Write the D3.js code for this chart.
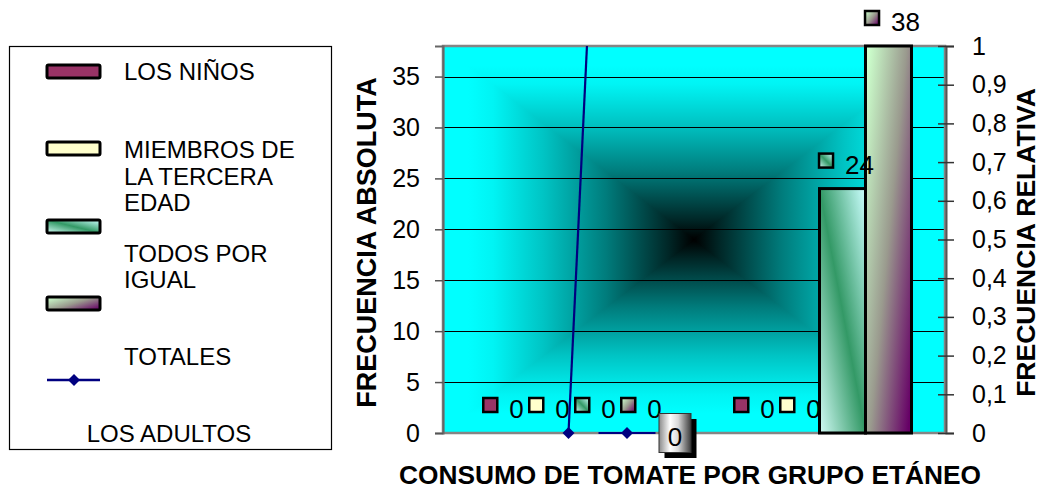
<!DOCTYPE html>
<html>
<head>
<meta charset="utf-8">
<script src="https://cdn.jsdelivr.net/npm/d3@7"></script>
<style>
  html, body { margin: 0; padding: 0; background: #ffffff; }
  svg { display: block; font-family: "Liberation Sans", Arial, sans-serif; }
</style>
</head>
<body>
<svg id="chart" width="1044" height="489"></svg>
<script>
// ---- data ----
const categories = ["Grupo 1", "Grupo 2"];
const barSeries = ["LOS NIÑOS", "MIEMBROS DE LA TERCERA EDAD", "LOS ADULTOS", "TODOS POR IGUAL"];
const ninos = [0, 0];
const terceraEdad = [0, 0];
const adultos = [0, 24];
const todosIgual = [0, 38];
const totales = [0, 13.6];          // plotted against the relative-frequency axis
const absTicks = [0, 5, 10, 15, 20, 25, 30, 35];
const relTicks = [0, 0.1, 0.2, 0.3, 0.4, 0.5, 0.6, 0.7, 0.8, 0.9, 1];
const legendLines = [
  ["LOS NIÑOS"],
  ["MIEMBROS DE", "LA TERCERA", "EDAD"],
  ["TODOS POR", "IGUAL"],
  ["TOTALES"],
  ["LOS ADULTOS"]
];
const titleX = "CONSUMO DE TOMATE POR GRUPO ETÁNEO";
const titleY = "FRECUENCIA ABSOLUTA";
const titleY2 = "FRECUENCIA RELATIVA";

const barValues = [ninos, terceraEdad, adultos, todosIgual];

// ---- layout ----
const svg = d3.select("#chart");
const P = { l: 443, r: 945, t: 46, b: 433 };
const cx = (P.l + P.r) / 2, cy = (P.t + P.b) / 2;

const x0 = d3.scaleBand().domain(categories).range([P.l, P.r]).paddingInner(0.267).paddingOuter(0.1335);
const x1 = d3.scaleBand().domain(d3.range(barSeries.length)).range([0, x0.bandwidth()]);
const yL = d3.scaleLinear().domain([0, 38]).range([P.b, P.t]);
const yR = d3.scaleLinear().domain([0, 1]).range([P.b, P.t]);

const defs = svg.append("defs");

// rectangular "from centre" background: four triangles with linear ramps
function ramp(id, x1v, y1v, x2v, y2v) {
  const g = defs.append("linearGradient").attr("id", id).attr("gradientUnits", "userSpaceOnUse")
    .attr("x1", x1v).attr("y1", y1v).attr("x2", x2v).attr("y2", y2v);
  [[0, "#000000"], [0.1, "#002626"], [0.35, "#007c7c"], [0.6, "#00c4c4"], [0.8, "#00f4f4"], [0.9, "#00ffff"], [1, "#00ffff"]]
    .forEach(([o, c]) => g.append("stop").attr("offset", o).attr("stop-color", c));
}
ramp("bgTop", cx, cy, cx, P.t);
ramp("bgBottom", cx, cy, cx, P.b);
ramp("bgLeft", cx, cy, P.l, cy);
ramp("bgRight", cx, cy, P.r, cy);

// bar fills
const gGreen = defs.append("linearGradient").attr("id", "fillGreen")
  .attr("x1", 0).attr("y1", 1).attr("x2", 1).attr("y2", 0);
[[0, "#d2fbf6"], [0.5, "#339966"], [1, "#ccffff"]]
  .forEach(([o, c]) => gGreen.append("stop").attr("offset", o).attr("stop-color", c));
const gPurple = defs.append("linearGradient").attr("id", "fillPurple")
  .attr("x1", 0).attr("y1", 0.1).attr("x2", 1).attr("y2", 0.9);
[[0, "#ccffcc"], [0.5, "#9a9a8e"], [1, "#660066"]]
  .forEach(([o, c]) => gPurple.append("stop").attr("offset", o).attr("stop-color", c));
const gBox = defs.append("linearGradient").attr("id", "fillBox")
  .attr("x1", 0).attr("y1", 0).attr("x2", 1).attr("y2", 0);
[[0, "#8a8a8a"], [0.35, "#ffffff"], [0.6, "#d8d8d8"], [1, "#3c3c3c"]]
  .forEach(([o, c]) => gBox.append("stop").attr("offset", o).attr("stop-color", c));

const fills = ["#993366", "#ffffcc", "url(#fillGreen)", "url(#fillPurple)"];

defs.append("clipPath").attr("id", "plotClip")
  .append("rect").attr("x", P.l).attr("y", P.t).attr("width", P.r - P.l).attr("height", P.b - P.t);

// ---- plot background ----
const bg = svg.append("g").attr("clip-path", "url(#plotClip)");
const tri = [
  ["bgTop", `M${P.l},${P.t}L${P.r},${P.t}L${cx},${cy}Z`],
  ["bgBottom", `M${P.l},${P.b}L${P.r},${P.b}L${cx},${cy}Z`],
  ["bgLeft", `M${P.l},${P.t}L${P.l},${P.b}L${cx},${cy}Z`],
  ["bgRight", `M${P.r},${P.t}L${P.r},${P.b}L${cx},${cy}Z`]
];
tri.forEach(([id, d]) => {
  bg.append("path").attr("d", d).attr("fill", `url(#${id})`)
    .attr("stroke", `url(#${id})`).attr("stroke-width", 1.5).attr("stroke-linejoin", "round");
});

// gridlines
svg.append("g").selectAll("line").data(absTicks.filter(d => d > 0)).join("line")
  .attr("x1", P.l).attr("x2", P.r)
  .attr("y1", d => Math.round(yL(d)) + 0.5).attr("y2", d => Math.round(yL(d)) + 0.5)
  .attr("stroke", "#000").attr("stroke-width", 1.2);

// plot border
svg.append("rect").attr("x", P.l).attr("y", P.t).attr("width", P.r - P.l).attr("height", P.b - P.t)
  .attr("fill", "none").attr("stroke", "#858585").attr("stroke-width", 2.5);

// ---- bars ----
const barG = svg.append("g");
barSeries.forEach((name, si) => {
  barG.append("g").selectAll("rect").data(categories).join("rect")
    .attr("x", c => x0(c) + x1(si))
    .attr("y", (c, ci) => yL(barValues[si][ci]))
    .attr("width", x1.bandwidth())
    .attr("height", (c, ci) => yL(0) - yL(barValues[si][ci]))
    .attr("fill", fills[si])
    .attr("stroke", "#000").attr("stroke-width", 3)
    .attr("stroke-linejoin", "miter");
});

// bar data labels: legend key square + value
const labG = svg.append("g");
barSeries.forEach((name, si) => {
  categories.forEach((c, ci) => {
    const v = barValues[si][ci];
    const bx = x0(c) + x1(si) + x1.bandwidth() / 2;
    const top = yL(v);
    const g = labG.append("g");
    const t = g.append("text").attr("x", 0).attr("y", top - 15)
      .attr("font-size", 26).attr("fill", "#000").text(v);
    const tw = t.node().getComputedTextLength();
    const total = 15 + 11 + tw;
    const left = bx + 4 - total / 2;
    g.append("rect").attr("x", left).attr("y", top - 35).attr("width", 14).attr("height", 14)
      .attr("fill", fills[si]).attr("stroke", "#000").attr("stroke-width", 2.5);
    t.attr("x", left + 26);
  });
});

// ---- TOTALES line (relative axis) ----
const lx = (c) => x0(c) + x0.bandwidth() / 2;
const line = d3.line().x((d, i) => lx(categories[i])).y(d => yR(d));
svg.append("path").datum(totales).attr("d", line)
  .attr("clip-path", "url(#plotClip)")
  .attr("fill", "none").attr("stroke", "#000080").attr("stroke-width", 2.2);

const diamond = (x, y, r) => `M${x},${y - r}L${x + r},${y}L${x},${y + r}L${x - r},${y}Z`;
totales.forEach((v, i) => {
  const px = lx(categories[i]), py = yR(v);
  if (py < P.t) return;
  svg.append("path").attr("d", diamond(px, py, 6)).attr("fill", "#000080");
  // label with legend key and boxed value
  const g = svg.append("g");
  g.append("line").attr("x1", px + 30).attr("x2", px + 87).attr("y1", py).attr("y2", py)
    .attr("stroke", "#000080").attr("stroke-width", 2.2);
  g.append("path").attr("d", diamond(px + 58.5, py, 6)).attr("fill", "#000080");
  g.append("rect").attr("x", px + 96).attr("y", py - 14).attr("width", 32).attr("height", 39)
    .attr("fill", "#000");
  g.append("rect").attr("x", px + 90.5).attr("y", py - 19.5).attr("width", 32).attr("height", 39)
    .attr("fill", "url(#fillBox)").attr("stroke", "#333").attr("stroke-width", 1);
  g.append("text").attr("x", px + 106.5).attr("y", py + 13).attr("text-anchor", "middle")
    .attr("font-size", 26).attr("fill", "#000").text(v);
});

// ---- axes ----
const axL = svg.append("g").attr("transform", `translate(${P.l},0)`)
  .call(d3.axisLeft(yL).tickValues(absTicks).tickSize(8).tickPadding(15).tickFormat(d3.format("d")));
axL.select(".domain").attr("stroke", "#666").attr("stroke-width", 2);
axL.selectAll(".tick line").attr("stroke", "#555").attr("stroke-width", 1.5);
axL.selectAll(".tick text").attr("font-size", 25).attr("font-family", "Liberation Sans, Arial, sans-serif")
  .attr("fill", "#000");

const relFmt = d => (d === 0 || d === 1) ? String(d) : d3.format(".1f")(d).replace(".", ",");
const axR = svg.append("g").attr("transform", `translate(${P.r + 1},0)`)
  .call(d3.axisRight(yR).tickValues(relTicks).tickSize(8).tickPadding(18).tickFormat(relFmt));
axR.select(".domain").attr("stroke", "#555").attr("stroke-width", 2);
axR.selectAll(".tick line").attr("x1", -8).attr("x2", 8).attr("stroke", "#333").attr("stroke-width", 1.5);
axR.selectAll(".tick text").attr("font-size", 25).attr("font-family", "Liberation Sans, Arial, sans-serif")
  .attr("fill", "#000");

// axis titles
svg.append("text").attr("transform", `translate(376,${cy + 3}) rotate(-90)`)
  .attr("text-anchor", "middle").attr("font-size", 27).attr("font-weight", "bold").text(titleY);
svg.append("text").attr("transform", `translate(1035,${cy + 3}) rotate(-90)`)
  .attr("text-anchor", "middle").attr("font-size", 26.5).attr("font-weight", "bold").text(titleY2);
svg.append("text").attr("x", 690).attr("y", 484)
  .attr("text-anchor", "middle").attr("font-size", 26.3).attr("font-weight", "bold").text(titleX);

// ---- legend ----
const lg = svg.append("g");
lg.append("rect").attr("x", 9.5).attr("y", 46.5).attr("width", 322).attr("height", 403)
  .attr("fill", "#fff").attr("stroke", "#000").attr("stroke-width", 1.2);
const keyY = [65, 142, 220, 297];
keyY.forEach((ky, i) => {
  lg.append("rect").attr("x", 47).attr("y", ky).attr("width", 53).attr("height", 13)
    .attr("rx", 1.5).attr("fill", fills[i]).attr("stroke", "#000").attr("stroke-width", 3);
});
lg.append("line").attr("x1", 47).attr("x2", 100).attr("y1", 380).attr("y2", 380)
  .attr("stroke", "#000080").attr("stroke-width", 2.5);
lg.append("path").attr("d", diamond(74, 380, 6)).attr("fill", "#000080");

const textBase = [[80], [158, 185, 211], [262, 288], [365], [442]];
legendLines.forEach((lines, i) => {
  lines.forEach((s, j) => {
    const last = i === legendLines.length - 1;
    lg.append("text").attr("x", last ? 169 : 124).attr("y", textBase[i][j])
      .attr("text-anchor", last ? "middle" : "start")
      .attr("font-size", 24).attr("fill", "#000").text(s);
  });
});
</script>
</body>
</html>
